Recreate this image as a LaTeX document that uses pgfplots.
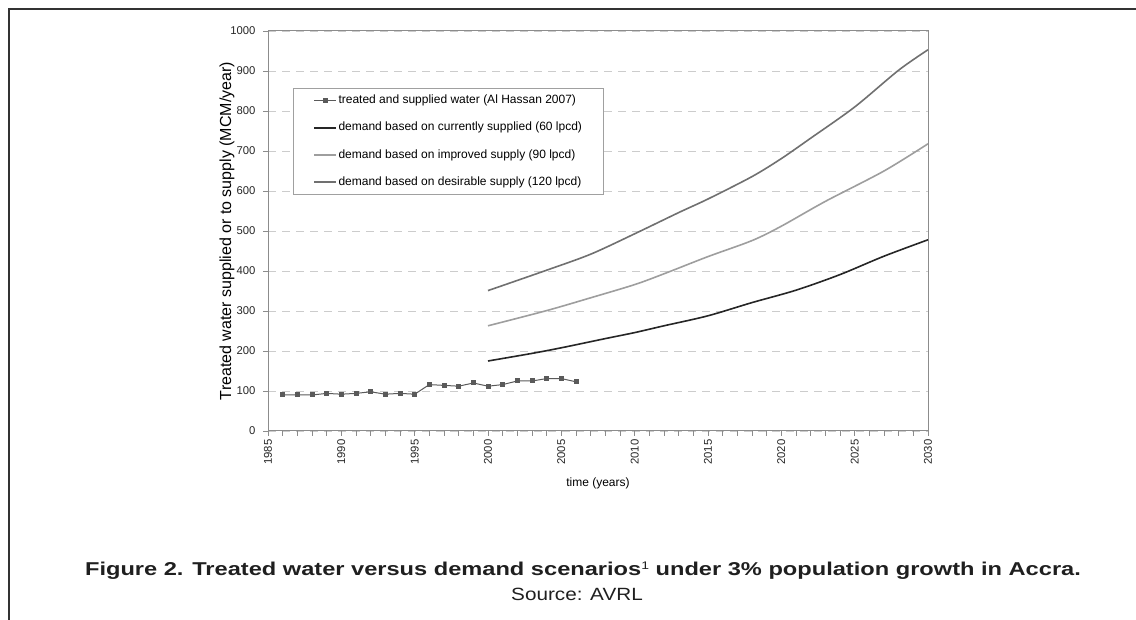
\documentclass[border=0pt]{standalone}
\usepackage{pgfplots}
\pgfplotsset{compat=1.18}
\usepackage{fontspec}
\setmainfont{Liberation Sans}
\definecolor{framec}{HTML}{333333}
\definecolor{axisc}{HTML}{8C8C8C}
\definecolor{gridc}{HTML}{CCCCCC}
\definecolor{legc}{HTML}{A0A0A0}
\definecolor{treatc}{HTML}{5A5A5A}
\definecolor{c60}{HTML}{262626}
\definecolor{c90}{HTML}{9E9E9E}
\definecolor{c120}{HTML}{707070}

\pgfplotstableread{
year val
1986 90
1987 90
1988 90
1989 94
1990 92
1991 94
1992 98
1993 92
1994 94
1995 92
1996 116
1997 114
1998 112
1999 120
2000 112
2001 116
2002 125
2003 125
2004 131
2005 131
2006 123
}\treated

\pgfplotstableread{
year val
2000 175
2003 194
2005 208
2008 231
2010 246
2012 263
2015 288
2018 321
2021 352
2024 391
2027 437
2030 478
}\dsixty

\pgfplotstableread{
year val
2000 263
2004 301
2007 333
2010 366
2012 393
2015 436
2018 476
2020 512
2023 574
2027 650
2030 718
}\dninety

\pgfplotstableread{
year val
2000 351
2004 402
2007 442
2010 493
2013 546
2015 580
2018 636
2020 681
2022 732
2025 810
2028 902
2030 953
}\dhundred

\begin{document}
\begin{tikzpicture}[x=1pt,y=1pt]
\useasboundingbox (0,0) rectangle (1136,620);
\draw[line width=2pt, color=framec] (8.5,0) -- (8.5,611) -- (1136,611);
\begin{axis}[
  at={(268pt,189pt)}, anchor=south west,
  scale only axis, width=660pt, height=400pt,
  xmin=1985, xmax=2030, ymin=0, ymax=1000,
  xtick={1985,1990,...,2030},
  minor x tick num=4,
  ytick={0,100,...,1000},
  xtick pos=left, ytick pos=left,
  tick align=outside,
  major tick length=5pt, minor tick length=5pt,
  every tick/.style={color=axisc, line width=0.8pt},
  axis line style={color=axisc, line width=1pt},
  ymajorgrids,
  major grid style={dashed, dash pattern=on 8pt off 6pt, color=gridc, line width=0.8pt},
  /pgf/number format/assume math mode=true,
  /pgf/number format/1000 sep={},
  x tick label style={rotate=90, anchor=east, font=\fontsize{11.3}{13}\selectfont, color=black!85},
  y tick label style={font=\fontsize{11.3}{13}\selectfont, color=black!85, xshift=-4pt},
  xlabel={time (years)},
  ylabel={Treated water supplied or to supply (MCM/year)},
  xlabel style={at={(axis description cs:0.5,-0.13)}, anchor=center, font=\fontsize{12}{14}\selectfont},
  ylabel style={at={(axis description cs:-0.0621,0.5)}, anchor=center, font=\fontsize{16}{18}\selectfont},
  legend cell align=left,
  legend image code/.code={\draw[mark repeat=2,mark phase=2] plot coordinates {(0pt,0pt) (11pt,0pt) (22pt,0pt)};},
  legend style={at={(rel axis cs:0.0379,0.8575)}, anchor=north west, draw=legc, line width=0.8pt,
    font=\fontsize{12}{14}\selectfont, inner xsep=20pt, inner ysep=5pt, row sep=12.1pt,
    nodes={inner xsep=1.5pt, inner ysep=2pt, text height=8.5pt, text depth=2.5pt}},
]
\addplot[color=treatc, line width=1pt, mark=square*, mark size=2pt, mark options={solid, fill=treatc}] table[x=year,y=val] {\treated};
\addlegendentry{treated and supplied water (Al Hassan 2007)}
\addplot[color=c60, line width=1.6pt, smooth] table[x=year,y=val] {\dsixty};
\addlegendentry{demand based on currently supplied (60 lpcd)}
\addplot[color=c90, line width=1.6pt, smooth] table[x=year,y=val] {\dninety};
\addlegendentry{demand based on improved supply (90 lpcd)}
\addplot[color=c120, line width=1.6pt, smooth] table[x=year,y=val] {\dhundred};
\addlegendentry{demand based on desirable supply (120 lpcd)}
\end{axis}
\node[anchor=base, xscale=1.27, font=\fontsize{18.6}{20}\selectfont\bfseries, color=black!88] at (583,44) {Figure 2. Treated water versus demand scenarios\raisebox{6pt}{\fontsize{11}{11}\selectfont\mdseries 1} under 3\% population growth in Accra.};
\node[anchor=base, xscale=1.17, font=\fontsize{17.7}{19}\selectfont, color=black!88] at (577,19.3) {Source: AVRL};
\end{tikzpicture}
\end{document}
